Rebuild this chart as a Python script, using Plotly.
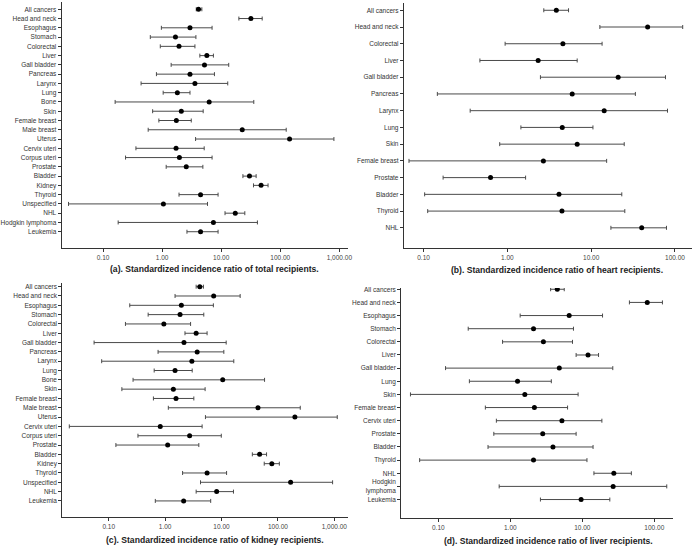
import plotly.graph_objects as go

W, H = 700, 549

# ---------------- data ----------------
a_labels = ["All cancers", "Head and neck", "Esophagus", "Stomach", "Colorectal", "Liver",
            "Gall bladder", "Pancreas", "Larynx", "Lung", "Bone", "Skin", "Female breast",
            "Male breast", "Uterus", "Cervix uteri", "Corpus uteri", "Prostate", "Bladder",
            "Kidney", "Thyroid", "Unspecified", "NHL", "Hodgkin lymphoma", "Leukemia"]
a_sir = [4.13, 31.8, 2.96, 1.68, 1.93, 5.71, 5.21, 2.96, 3.59, 1.81, 6.25, 2.11, 1.74,
         22.7, 143.6, 1.72, 1.96, 2.56, 30.1, 47.3, 4.47, 1.05, 17.3, 7.38, 4.47]
a_lo = [3.78, 19.9, 0.97, 0.63, 0.93, 4.35, 1.42, 0.80, 0.44, 1.04, 0.16, 0.69, 0.88,
        0.58, 3.68, 0.36, 0.24, 1.17, 23.3, 35.2, 1.93, 0.026, 11.6, 0.18, 2.63]
a_hi = [4.70, 49.4, 7.0, 3.73, 3.59, 7.38, 13.4, 7.68, 12.9, 2.96, 35.6, 4.95, 3.11,
        126, 809, 5.15, 7.0, 4.89, 39.0, 62.1, 8.85, 5.86, 25.1, 41.0, 8.85]

b_labels = ["All cancers", "Head and neck", "Colorectal", "Liver", "Gall bladder", "Pancreas",
            "Larynx", "Lung", "Skin", "Female breast", "Prostate", "Bladder", "Thyroid", "NHL"]
b_sir = [3.84, 47.2, 4.60, 2.33, 21.0, 5.94, 14.3, 4.52, 6.81, 2.69, 0.63, 4.13, 4.48, 40.1]
b_lo = [2.72, 12.7, 0.94, 0.47, 2.48, 0.146, 0.36, 1.45, 0.81, 0.067, 0.171, 0.103, 0.112, 17.2]
b_hi = [5.37, 123.7, 13.5, 6.81, 77.1, 33.7, 81.5, 10.5, 24.8, 15.3, 1.65, 23.2, 25.2, 79.2]

c_labels = ["All cancers", "Head and neck", "Esophagus", "Stomach", "Colorectal", "Liver",
            "Gall bladder", "Pancreas", "Larynx", "Lung", "Bone", "Skin", "Female breast",
            "Male breast", "Uterus", "Cervix uteri", "Corpus uteri", "Prostate", "Bladder",
            "Kidney", "Thyroid", "Unspecified", "NHL", "Leukemia"]
c_sir = [4.12, 7.26, 1.94, 1.84, 0.95, 3.55, 2.16, 3.70, 2.98, 1.50, 10.5, 1.40, 1.56,
         44.3, 200, 0.82, 2.72, 1.11, 47.4, 78.0, 5.55, 168, 8.20, 2.13]
c_lo = [3.55, 1.50, 0.236, 0.50, 0.198, 2.25, 0.055, 0.75, 0.075, 0.64, 0.27, 0.171, 0.62,
        1.14, 5.19, 0.020, 0.33, 0.134, 35.2, 57.2, 2.04, 4.24, 3.55, 0.67]
c_hi = [4.78, 21.4, 7.17, 4.85, 2.83, 5.55, 12.1, 11.0, 16.5, 3.02, 58.0, 5.12, 3.23,
        249, 1128, 4.53, 9.91, 3.96, 62.9, 106, 12.3, 933, 16.3, 6.43]

d_labels = ["All cancers", "Head and neck", "Esophagus", "Stomach", "Colorectal", "Liver",
            "Gall bladder", "Lung", "Skin", "Female breast", "Cervix uteri", "Prostate",
            "Bladder", "Thyroid", "NHL", "Hodgkin<br>lymphoma", "Leukemia"]
d_sir = [4.49, 79.8, 6.57, 2.10, 2.88, 12.0, 4.79, 1.26, 1.59, 2.16, 5.21, 2.82, 3.91,
         2.10, 27.4, 26.8, 9.62]
d_lo = [3.63, 45.1, 1.37, 0.26, 0.78, 8.20, 0.126, 0.27, 0.041, 0.45, 0.64, 0.59, 0.49,
        0.055, 14.5, 0.70, 2.62]
d_hi = [5.61, 129.7, 19.1, 7.54, 7.31, 16.8, 26.5, 3.71, 8.74, 6.24, 18.7, 8.20, 14.1,
        11.6, 48.0, 148.9, 24.1]

x_tickvals = [0.1, 1, 10, 100, 1000]
x_ticktext = ["0.10", "1.00", "10.00", "100.00", "1,000.00"]

titles = ["(a). Standardized incidence ratio of total recipients.",
          "(b). Standardized incidence ratio of heart recipients.",
          "(c). Standardized incidence ratio of kidney recipients.",
          "(d). Standardized incidence ratio of liver recipients."]

# ---------------- layout geometry (pixels) ----------------
panels = [
    dict(lab=a_labels, v=a_sir, lo=a_lo, hi=a_hi, px=(62, 350), lr=(-1.703, 3.138),
         py=(0, 247.3), ir=(25.8, -0.785), tpos=(216, 268), ntick=5),
    dict(lab=b_labels, v=b_sir, lo=b_lo, hi=b_hi, px=(406.7, 696.7), lr=(-1.236, 2.200),
         py=(1, 247.3), ir=(14.23, -0.435), tpos=(561, 269), ntick=4),
    dict(lab=c_labels, v=c_sir, lo=c_lo, hi=c_hi, px=(62.7, 350), lr=(-1.824, 3.234),
         py=(281.7, 517.3), ir=(24.77, -0.43), tpos=(217, 540), ntick=5),
    dict(lab=d_labels, v=d_sir, lo=d_lo, hi=d_hi, px=(404, 678.3), lr=(-1.517, 2.266),
         py=(287.0, 517.7), ir=(17.39, -0.1), tpos=(552, 540.5), ntick=4),
]

FONT = "Liberation Sans, Arial, sans-serif"
LINE = "#4a4a4a"

fig = go.Figure()
layout = dict(width=W, height=H, margin=dict(l=0, r=0, t=0, b=0),
              paper_bgcolor="white", plot_bgcolor="white", showlegend=False,
              font=dict(family=FONT, color="#333333"))
shapes = []
annotations = []

for k, p in enumerate(panels, start=1):
    xs = "x" if k == 1 else f"x{k}"
    ys = "y" if k == 1 else f"y{k}"
    idx = list(range(len(p["lab"])))
    plus = [h - v for h, v in zip(p["hi"], p["v"])]
    minus = [v - l for v, l in zip(p["v"], p["lo"])]
    fig.add_trace(go.Scatter(
        x=p["v"], y=idx, mode="markers", xaxis=xs, yaxis=ys,
        marker=dict(color="black", size=5),
        error_x=dict(type="data", symmetric=False, array=plus, arrayminus=minus,
                     color=LINE, thickness=1, width=2),
        hoverinfo="skip"))
    xd = [p["px"][0] / W, p["px"][1] / W]
    yd = [1 - p["py"][1] / H, 1 - p["py"][0] / H]
    xkey = "xaxis" if k == 1 else f"xaxis{k}"
    ykey = "yaxis" if k == 1 else f"yaxis{k}"
    layout[xkey] = dict(type="log", domain=xd, range=list(p["lr"]), anchor=ys,
                        tickvals=x_tickvals[:p["ntick"]], ticktext=x_ticktext[:p["ntick"]],
                        showgrid=False, zeroline=False, showline=True, linecolor="#333333",
                        linewidth=1, ticks="outside", ticklen=3, tickcolor="#333333",
                        tickfont=dict(size=6.5, color="#444444", family=FONT))
    layout[ykey] = dict(domain=yd, range=list(p["ir"]), anchor=xs,
                        tickvals=idx, ticktext=p["lab"],
                        showgrid=False, zeroline=False, showline=True, linecolor="#333333",
                        linewidth=1, ticks="outside", ticklen=3, tickcolor="#333333",
                        tickfont=dict(size=6.5, color="#333333", family=FONT))
    shapes.append(dict(type="line", xref=xs, yref=f"{ys} domain", x0=0, x1=0, y0=0, y1=1,
                       line=dict(color="#999999", width=1, dash="dot")))
    annotations.append(dict(text=f"<b>{titles[k-1]}</b>", xref="paper", yref="paper",
                            x=p["tpos"][0] / W, y=1 - p["tpos"][1] / H,
                            xanchor="center", yanchor="middle", showarrow=False,
                            font=dict(size=8.6, color="#222222", family=FONT)))

layout["shapes"] = shapes
layout["annotations"] = annotations
fig.update_layout(**layout)
fig.write_html("out.html", config={"displayModeBar": False},
               post_script="document.body.style.margin='0';document.body.style.overflow='hidden';")
